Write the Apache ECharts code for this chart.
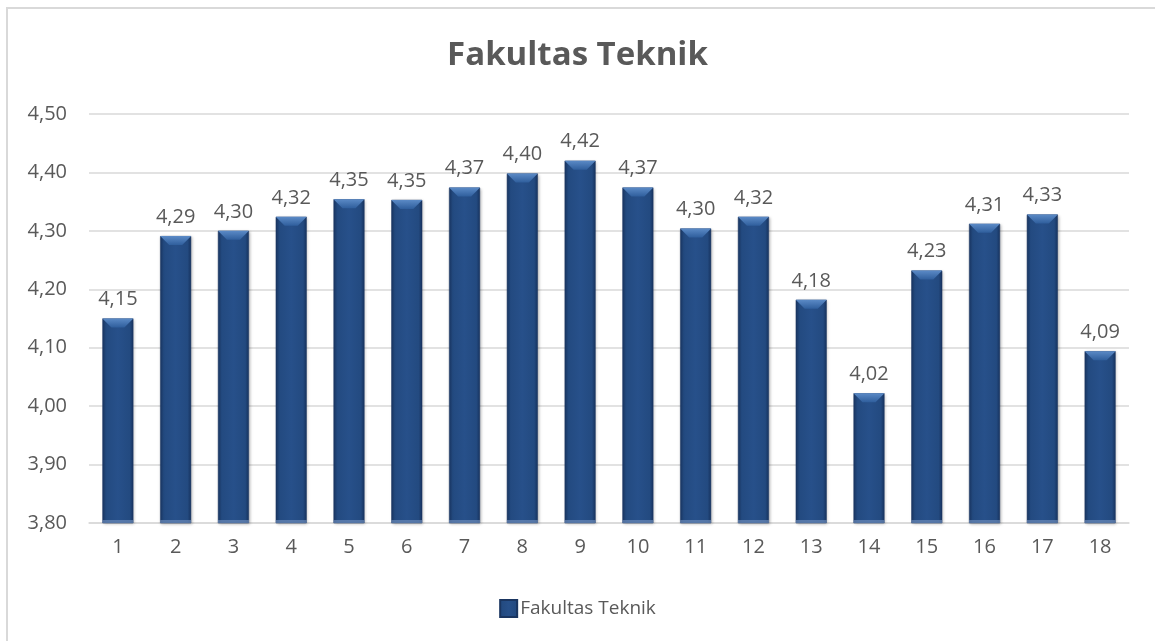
<!DOCTYPE html>
<html>
<head>
<meta charset="utf-8">
<script src="https://cdn.jsdelivr.net/npm/echarts@6/dist/echarts.min.js"></script>
<style>
html,body{margin:0;padding:0;background:#fff;}
#frame{position:absolute;left:6px;top:7px;width:1160px;height:700px;border:2px solid #d9d9d9;box-sizing:border-box;}
#chart{position:absolute;left:0;top:0;width:1155px;height:641px;}
</style>
</head>
<body>
<div id="frame"></div>
<div id="chart"></div>
<script>
const titleText = 'Fakultas Teknik';
const seriesName = 'Fakultas Teknik';
const categories = ['1','2','3','4','5','6','7','8','9','10','11','12','13','14','15','16','17','18'];
const values = [4.15, 4.291, 4.30, 4.324, 4.354, 4.353, 4.374, 4.398, 4.42, 4.374, 4.304, 4.324, 4.182, 4.022, 4.232, 4.312, 4.328, 4.094];
const yMin = 3.8, yMax = 4.5, yStep = 0.1;

const fmt = v => v.toFixed(2).replace('.', ',');
const txt = '#595959';
const font = "'Open Sans', 'Noto Sans', sans-serif";

const barColor = new echarts.graphic.LinearGradient(0, 0, 1, 0, [
  {offset: 0, color: '#1a3764'},
  {offset: 0.12, color: '#234a80'},
  {offset: 0.5, color: '#27508a'},
  {offset: 0.88, color: '#234a80'},
  {offset: 1, color: '#183460'}
]);

const chart = echarts.init(document.getElementById('chart'), null, {renderer: 'canvas'});
chart.setOption({
  animation: false,
  title: {
    text: titleText, left: 'center', top: 34,
    textStyle: {fontFamily: font, fontSize: 33, fontWeight: 'bold', color: txt}
  },
  grid: {left: 89, right: 26, top: 114, bottom: 118},
  legend: {
    bottom: 18, left: 'center',
    itemWidth: 17, itemHeight: 17, itemGap: 6,
    icon: 'rect',
    textStyle: {fontFamily: font, fontSize: 19, color: txt, padding: [0, 0, 0, -2]},
    data: [seriesName]
  },
  xAxis: {
    type: 'category', data: categories,
    axisLine: {show: true, lineStyle: {color: '#d9d9d9', width: 1.5}},
    axisTick: {show: false},
    axisLabel: {fontFamily: font, fontSize: 20, color: txt, margin: 14}
  },
  yAxis: {
    type: 'value', min: yMin, max: yMax, interval: yStep,
    axisLine: {show: false}, axisTick: {show: false},
    splitLine: {lineStyle: {color: '#d9d9d9', width: 1.5}},
    axisLabel: {fontFamily: font, fontSize: 20, color: txt, margin: 22, formatter: v => fmt(v)}
  },
  series: [{
    name: seriesName, type: 'bar', data: values,
    barWidth: 31,
    itemStyle: {
      color: barColor,
      borderColor: '#1a3560', borderWidth: 0.5,
      shadowColor: 'rgba(0,0,0,0.25)', shadowBlur: 3, shadowOffsetX: 1, shadowOffsetY: 1
    },
    label: {
      show: true, position: 'top', distance: 9,
      fontFamily: font, fontSize: 20, color: txt,
      formatter: p => fmt(p.value)
    }
  }, {
    name: 'bevel', type: 'custom', data: values.map((v, i) => [i, v]),
    silent: true, z: 3,
    renderItem: (params, api) => {
      const top = api.coord([api.value(0), api.value(1)]);
      const base = api.coord([api.value(0), yMin]);
      const hw = 15.5, d = 9;
      const l = top[0] - hw, r = top[0] + hw, t = top[1];
      return {
        type: 'group',
        children: [{
          type: 'polygon',
          shape: {points: [[l, t], [r, t], [r - d, t + d], [l + d, t + d]]},
          style: {
            fill: new echarts.graphic.LinearGradient(0, 0, 0, 1, [
              {offset: 0, color: '#5b8ac6'},
              {offset: 1, color: '#2f5e9c'}
            ])
          }
        }, {
          type: 'rect',
          shape: {x: l, y: base[1] - 3, width: 2 * hw, height: 3},
          style: {fill: 'rgba(120,150,195,0.6)'}
        }]
      };
    }
  }]
});
</script>
</body>
</html>
